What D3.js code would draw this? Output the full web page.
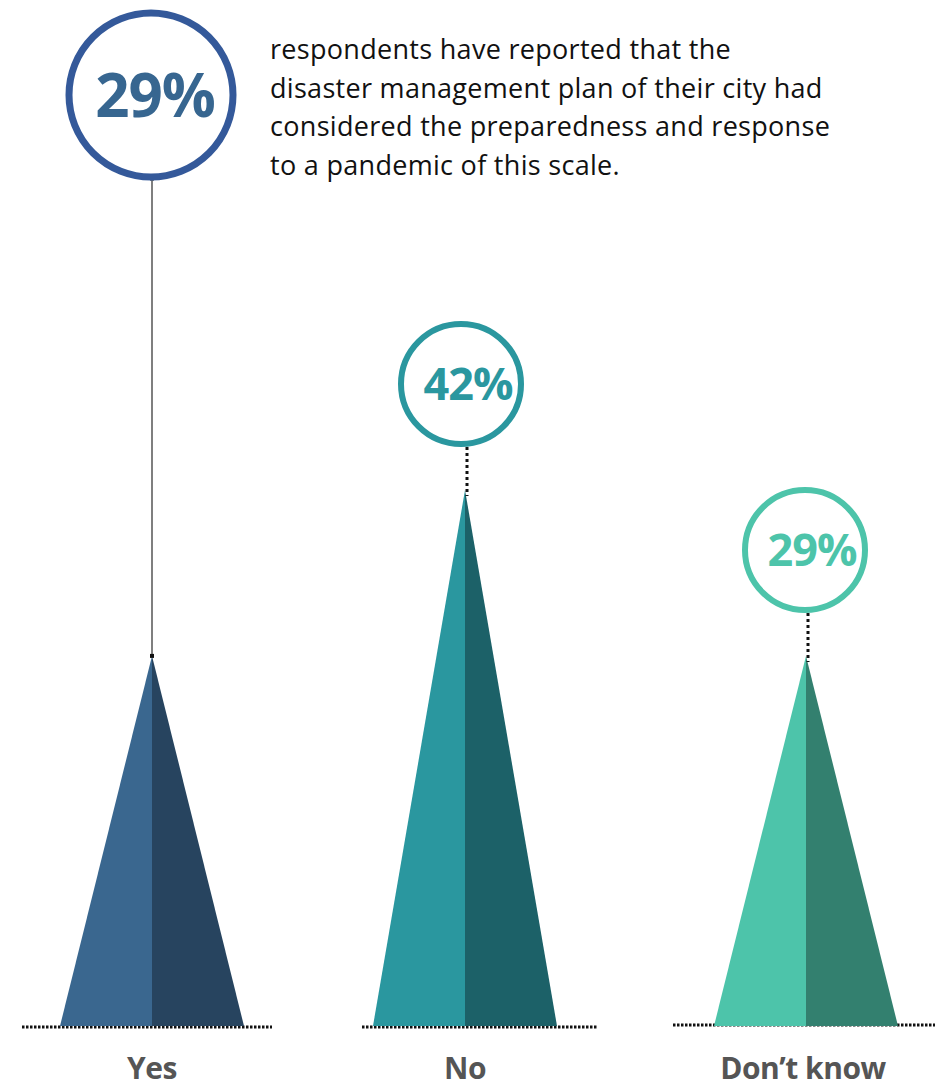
<!DOCTYPE html>
<html><head><meta charset="utf-8">
<script src="https://cdn.jsdelivr.net/npm/d3@7"></script>
<style>body{margin:0;background:#fff}svg{display:block}</style>
</head><body>
<script>
const categories = ["Yes", "No", "Don\u2019t know"];
const values = [29, 42, 29];
const valueLabels = ["29%", "42%", "29%"];
const note = ["respondents have reported that the", "disaster management plan of their city had", "considered the preparedness and response", "to a pandemic of this scale."];

const W = 935, H = 1091;
const svg = d3.select("body").append("svg").attr("width", W).attr("height", H);

const x = d3.scaleOrdinal().domain(categories).range([152, 465, 806]);
const y = d3.scaleLinear().domain([0, 42]).range([1026, 490]);
const leftCol = d3.scaleOrdinal().domain(categories).range(["#3a678f", "#2a979f", "#4dc4aa"]);
const rightCol = d3.scaleOrdinal().domain(categories).range(["#27445f", "#1c6168", "#33806f"]);
const ringCol = d3.scaleOrdinal().domain(categories).range(["#34599a", "#2a979f", "#4dc4aa"]);
const textCol = d3.scaleOrdinal().domain(categories).range(["#376690", "#2a979f", "#4dc4aa"]);
const halfBase = 92;
const baseExt = d3.scaleOrdinal().domain(categories).range([[22, 272], [362, 598], [673, 935]]);
const baseY = d3.scaleOrdinal().domain(categories).range([1027, 1027, 1025]);

const data = categories.map((c, i) => ({c, v: values[i], lab: valueLabels[i], i}));

// baselines
svg.selectAll("line.base").data(data).join("line").attr("class", "base")
  .attr("x1", d => baseExt(d.c)[0]).attr("x2", d => baseExt(d.c)[1])
  .attr("y1", d => baseY(d.c)).attr("y2", d => baseY(d.c))
  .attr("stroke", "#111").attr("stroke-width", 3).attr("stroke-dasharray", "2.5,1.5");

// triangles
const g = svg.selectAll("g.tri").data(data).join("g").attr("class", "tri");
g.append("path").attr("fill", d => leftCol(d.c))
  .attr("d", d => `M${x(d.c)},${y(d.v)}L${x(d.c)},${y(0)}L${x(d.c) - halfBase},${y(0)}Z`);
g.append("path").attr("fill", d => rightCol(d.c))
  .attr("d", d => `M${x(d.c)},${y(d.v)}L${x(d.c) + halfBase},${y(0)}L${x(d.c)},${y(0)}Z`);

// circles: layout
const ring = [
  {cx: 151, cy: 95, r: 82, sw: 7, fs: 60},
  {cx: 461, cy: 384, r: 60, sw: 6, fs: 45},
  {cx: 805, cy: 550, r: 60, sw: 6, fs: 45}
];

data.forEach((d, i) => {
  const R = ring[i];
  const xa = x(d.c);
  if (i === 0) {
    svg.append("line").attr("x1", xa).attr("x2", xa)
      .attr("y1", R.cy + R.r + R.sw / 2).attr("y2", y(d.v))
      .attr("stroke", "#555").attr("stroke-width", 1.5);
    svg.append("rect").attr("x", xa - 2).attr("y", y(d.v) - 2).attr("width", 4).attr("height", 4).attr("fill", "#111");
    svg.append("rect").attr("x", xa - 2).attr("y", R.cy + R.r + R.sw / 2 - 3).attr("width", 4).attr("height", 3).attr("fill", "#111");
  } else {
    svg.append("line").attr("x1", xa + 2).attr("x2", xa + 2)
      .attr("y1", R.cy + R.r + R.sw / 2).attr("y2", y(d.v) + 6)
      .attr("stroke", "#111").attr("stroke-width", 3).attr("stroke-dasharray", "3,3");
  }
  svg.append("circle").attr("cx", R.cx).attr("cy", R.cy).attr("r", R.r)
    .attr("fill", "#fff").attr("stroke", ringCol(d.c)).attr("stroke-width", R.sw);
  svg.append("text").attr("x", R.cx + (i === 0 ? 4 : 7)).attr("y", R.cy).attr("dy", "0.36em")
    .attr("text-anchor", "middle").attr("font-family", "'Open Sans', sans-serif")
    .attr("font-weight", 700).attr("font-size", R.fs).attr("fill", textCol(d.c))
    .attr("letter-spacing", "-1").text(d.lab);
});

// category labels
svg.selectAll("text.cat").data(data).join("text").attr("class", "cat")
  .attr("x", (d, i) => x(d.c) + (i === 2 ? -3 : 0)).attr("y", 1079).attr("text-anchor", "middle")
  .attr("font-family", "'Open Sans', sans-serif").attr("font-weight", 700)
  .attr("font-size", 30).attr("fill", "#555").attr("letter-spacing", "-0.5")
  .text(d => d.c);

// note
svg.append("g").selectAll("text").data(note).join("text")
  .attr("x", 270).attr("y", (d, i) => 59 + i * 38.5)
  .attr("font-family", "'Open Sans', sans-serif").attr("font-size", 27)
  .attr("letter-spacing", "0.3")
  .attr("fill", "#111").text(d => d);
</script>
</body></html>
